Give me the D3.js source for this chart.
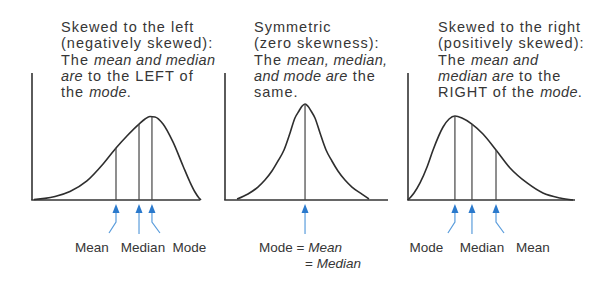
<!DOCTYPE html>
<html>
<head>
<meta charset="utf-8">
<script src="https://cdn.jsdelivr.net/npm/d3@7"></script>
<style>
  html, body { margin: 0; padding: 0; background: #ffffff; }
  svg { display: block; }
  text { font-family: "Liberation Sans", Arial, sans-serif; fill: #363636; }
</style>
</head>
<body>
<svg id="chart" width="600" height="290"></svg>
<script>
// ---------------- DATA ----------------
// Titles (words between underscores are drawn in italics)
const leftTitle  = ["Skewed to the left", "(negatively skewed):", "The _mean and median_", "_are_ to the LEFT of", "the _mode_."];
const symTitle   = ["Symmetric", "(zero skewness):", "The _mean, median,_", "_and mode are_ the", "same."];
const rightTitle = ["Skewed to the right", "(positively skewed):", "The _mean and_", "_median are_ to the", "RIGHT of the _mode_."];

// Curves (x: 0-100 along the axis, y: relative density 0-1)
const leftCurveX  = [1.2, 7.7, 13.7, 22.6, 32.7, 42.3, 50.0, 56.5, 63.7, 67.3, 70.2, 73.2, 78.0, 83.9, 89.9, 94.0, 97.0, 99.4, 100.6];
const leftCurveY  = [0.004, 0.013, 0.028, 0.067, 0.150, 0.283, 0.409, 0.504, 0.598, 0.638, 0.657, 0.654, 0.598, 0.457, 0.268, 0.142, 0.063, 0.016, 0];
const symCurveX   = [7.4, 14.1, 20.2, 24.5, 28.8, 32.5, 36.2, 39.9, 42.9, 45.4, 47.2, 49.1, 50.9, 52.8, 55.2, 58.3, 62.0, 65.6, 69.3, 73.6, 77.9, 84.0, 88.3];
const symCurveY   = [0.008, 0.047, 0.102, 0.157, 0.228, 0.307, 0.394, 0.528, 0.646, 0.701, 0.738, 0.756, 0.738, 0.701, 0.646, 0.528, 0.394, 0.307, 0.228, 0.157, 0.102, 0.047, 0.008];
const rightCurveX = [0, 3.6, 7.2, 11.4, 15.0, 21.0, 24.6, 28.1, 32.3, 38.3, 44.9, 52.7, 61.1, 71.3, 80.8, 91.0, 98.8];
const rightCurveY = [0, 0.055, 0.134, 0.260, 0.394, 0.575, 0.638, 0.661, 0.646, 0.598, 0.520, 0.394, 0.252, 0.134, 0.055, 0.016, 0];

// Markers (position on the same 0-100 axis)
const leftMarkerNames  = ["Mean", "Median", "Mode"];
const leftMarkerX      = [50.0, 63.7, 71.4];
const symMarkerNames   = ["Mode = _Mean_", "= _Median_"];
const symMarkerX       = [49.1];
const rightMarkerNames = ["Mode", "Median", "Mean"];
const rightMarkerX     = [28.1, 38.3, 52.7];

// ---------------- LAYOUT ----------------
const svg = d3.select("#chart");
const baseY = 200, topY = 73;
const panels = [
  { axisX: 32,  endX: 200, title: leftTitle,  titleX: 61,  cx: leftCurveX,  cy: leftCurveY,
    mx: leftMarkerX,  names: leftMarkerNames,  labelX: [92, 143, 189.5], labelY: [252, 252, 252], anchor: "middle" },
  { axisX: 225, endX: 388, title: symTitle,   titleX: 254, cx: symCurveX,   cy: symCurveY,
    mx: symMarkerX,   names: symMarkerNames,   labelX: [259, 305],     labelY: [252, 268], anchor: "start" },
  { axisX: 408, endX: 575, title: rightTitle, titleX: 438, cx: rightCurveX, cy: rightCurveY,
    mx: rightMarkerX, names: rightMarkerNames, labelX: [426.5, 482, 533], labelY: [252, 252, 252], anchor: "middle" }
];

function addRich(sel, str, lsNormal, lsItalic) {
  const parts = str.split("_");
  parts.forEach((p, i) => {
    if (!p) return;
    sel.append("tspan")
      .attr("font-style", i % 2 ? "italic" : "normal")
      .attr("letter-spacing", i % 2 ? lsItalic : lsNormal)
      .text(p);
  });
}

const y = d3.scaleLinear().domain([0, 1]).range([baseY, topY]);

panels.forEach(p => {
  const x = d3.scaleLinear().domain([0, 100]).range([p.axisX, p.endX]);
  const g = svg.append("g");

  // title
  p.title.forEach((line, i) => {
    const t = g.append("text").attr("x", p.titleX).attr("y", 32 + i * 16.3)
      .attr("font-size", 14.5);
    addRich(t, line, 1.0, 0.35);
  });

  // axes
  g.append("line").attr("x1", x(0)).attr("x2", x(0)).attr("y1", y(1)).attr("y2", y(0))
    .attr("stroke", "#333").attr("stroke-width", 1.6);
  g.append("line").attr("x1", x(0) - 0.8).attr("x2", x(100)).attr("y1", y(0)).attr("y2", y(0))
    .attr("stroke", "#333").attr("stroke-width", 1.6);

  // curve
  const pts = p.cx.map((v, i) => [v, p.cy[i]]);
  g.append("path").datum(pts)
    .attr("d", d3.line().x(d => x(d[0])).y(d => y(d[1])).curve(d3.curveMonotoneX))
    .attr("fill", "none").attr("stroke", "#2e2e2e").attr("stroke-width", 1.6);

  // marker lines + arrows
  const interp = v => {
    for (let i = 1; i < p.cx.length; i++) {
      if (v <= p.cx[i]) {
        const t = (v - p.cx[i - 1]) / (p.cx[i] - p.cx[i - 1]);
        return p.cy[i - 1] + t * (p.cy[i] - p.cy[i - 1]);
      }
    }
    return 0;
  };
  p.mx.forEach((m, i) => {
    const px = x(m);
    g.append("line").attr("x1", px).attr("x2", px).attr("y1", y(0)).attr("y2", y(interp(m)))
      .attr("stroke", "#444").attr("stroke-width", 1.2);
    let bend = 0;
    if (p.mx.length > 1) bend = i === 0 ? -7 : (i === p.mx.length - 1 ? 8 : 0);
    const shaft = bend === 0
      ? `M${px},211 L${px},234`
      : `M${px},211 L${px},222 L${px + bend},233`;
    g.append("path").attr("d", shaft).attr("fill", "none")
      .attr("stroke", "#5b9ddc").attr("stroke-width", 1.2);
    g.append("path").attr("d", `M${px},204 L${px - 3.5},213 L${px + 3.5},213 Z`)
      .attr("fill", "#2a79cc");
  });

  // labels
  p.names.forEach((n, i) => {
    const t = g.append("text").attr("x", p.labelX[i]).attr("y", p.labelY[i])
      .attr("font-size", 13.5).attr("text-anchor", p.anchor);
    addRich(t, n, 0, 0);
  });
});
</script>
</body>
</html>
